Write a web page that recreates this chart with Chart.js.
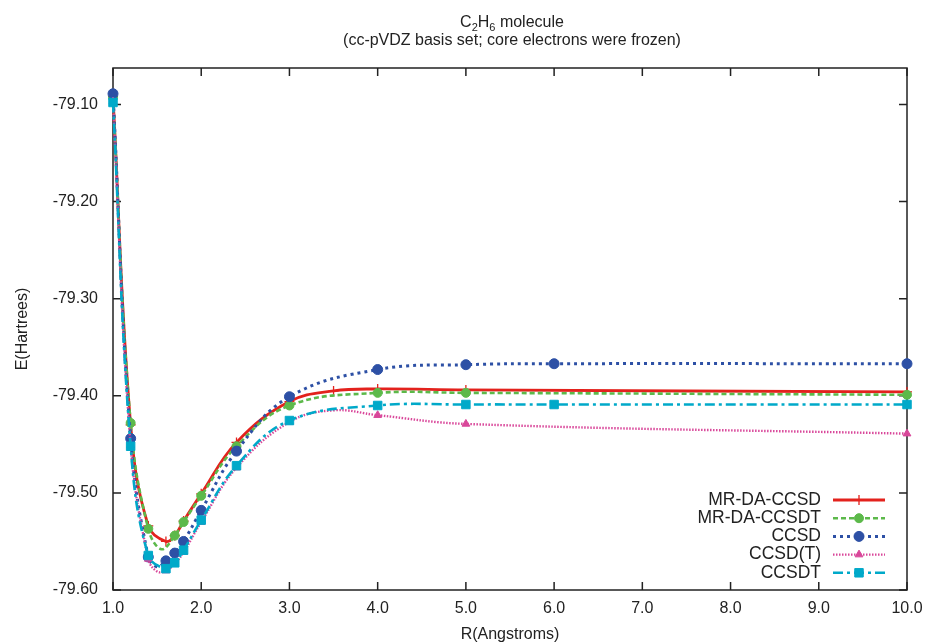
<!DOCTYPE html>
<html>
<head>
<meta charset="utf-8">
<title>C2H6 molecule</title>
<script src="https://cdn.jsdelivr.net/npm/chart.js@4.4.1/dist/chart.umd.min.js"></script>
<style>
  html, body { margin: 0; padding: 0; background: #fff; }
</style>
</head>
<body>
<canvas id="pes" width="925" height="643"></canvas>
<script>
// Potential energy curves of C2H6, cc-pVDZ basis, frozen core.
// R in Angstroms, E in Hartrees.

const xTicks = [1, 2, 3, 4, 5, 6, 7, 8, 9, 10];
const yTicks = [-79.6, -79.5, -79.4, -79.3, -79.2, -79.1];

// MR-DA-CCSD
const mrdaCcsdR = [1.0, 1.2, 1.4, 1.6, 1.7, 1.8, 2.0, 2.4, 3.0, 3.5, 4.0, 5.0, 10.0];
const mrdaCcsdE = [-79.092, -79.430, -79.534, -79.550, -79.544, -79.529, -79.501, -79.448, -79.406, -79.395, -79.393, -79.394, -79.396];
const mrdaCcsdBend = [];

// MR-DA-CCSDT
const mrdaCcsdtR = [1.0, 1.2, 1.4, 1.55, 1.7, 1.8, 2.0, 2.4, 3.0, 4.0, 5.0, 10.0];
const mrdaCcsdtE = [-79.093, -79.428, -79.537, -79.558, -79.544, -79.530, -79.503, -79.452, -79.410, -79.397, -79.397, -79.399];
const mrdaCcsdtBend = [1.55];

// CCSD
const ccsdR = [1.0, 1.2, 1.4, 1.5, 1.6, 1.7, 1.8, 2.0, 2.4, 3.0, 4.0, 5.0, 6.0, 10.0];
const ccsdE = [-79.089, -79.444, -79.566, -79.576, -79.570, -79.562, -79.550, -79.518, -79.457, -79.401, -79.373, -79.368, -79.367, -79.367];
const ccsdBend = [1.5];

// CCSD(T)
const ccsdPtR = [1.0, 1.2, 1.4, 1.5, 1.6, 1.7, 1.8, 2.0, 2.4, 3.0, 3.5, 4.0, 5.0, 10.0];
const ccsdPtE = [-79.097, -79.451, -79.568, -79.581, -79.580, -79.573, -79.561, -79.530, -79.474, -79.427, -79.415, -79.420, -79.429, -79.439];
const ccsdPtBend = [1.5, 3.5];

// CCSDT
const ccsdtR = [1.0, 1.2, 1.4, 1.6, 1.7, 1.8, 2.0, 2.4, 3.0, 4.0, 5.0, 6.0, 10.0];
const ccsdtE = [-79.098, -79.452, -79.5645, -79.578, -79.572, -79.559, -79.528, -79.472, -79.4255, -79.410, -79.409, -79.409, -79.409];
const ccsdtBend = [];

const FONT = "'Liberation Sans', Arial, Helvetica, sans-serif";
const INK = '#222';

function curve(label, R, E, bend, color, dash, width, pointStyle, radius, order) {
    return {
        label: label,
        data: R.map((r, i) => ({ x: r, y: E[i] })),
        borderColor: color,
        backgroundColor: color,
        borderWidth: width,
        borderDash: dash,
        tension: 0.4,
        pointStyle: pointStyle,
        pointRadius: ctx => bend.includes(ctx.raw.x) ? 0 : radius,
        pointBorderWidth: pointStyle === 'cross' ? 1.3 : 1,
        pointBackgroundColor: color,
        pointBorderColor: color,
        clip: false,
        order: order
    };
}

const datasets = [
    curve('MR-DA-CCSD', mrdaCcsdR, mrdaCcsdE, mrdaCcsdBend, '#e3221d', [], 2.8, 'cross', 5, 5),
    curve('MR-DA-CCSDT', mrdaCcsdtR, mrdaCcsdtE, mrdaCcsdtBend, '#5cb94a', [5, 3], 2.6, 'circle', 4.5, 4),
    curve('CCSD', ccsdR, ccsdE, ccsdBend, '#2d50a5', [3, 4], 3, 'circle', 5, 3),
    curve('CCSD(T)', ccsdPtR, ccsdPtE, ccsdPtBend, '#d9479a', [1.5, 1.5], 2.4, 'triangle', 4.5, 2),
    curve('CCSDT', ccsdtR, ccsdtE, ccsdtBend, '#00a9c9', [10, 4, 3, 4], 2.6, 'rect', 6, 1)
];

// border box with inward ticks on all four sides
const frame = {
    id: 'frame',
    beforeDatasetsDraw(chart) {
        const { ctx, chartArea: a, scales: { x, y } } = chart;
        ctx.save();
        ctx.strokeStyle = INK;
        ctx.lineWidth = 1.5;
        ctx.setLineDash([]);
        ctx.strokeRect(a.left, a.top, a.right - a.left, a.bottom - a.top);
        ctx.beginPath();
        xTicks.forEach(v => {
            const px = x.getPixelForValue(v);
            ctx.moveTo(px, a.bottom); ctx.lineTo(px, a.bottom - 8);
            ctx.moveTo(px, a.top); ctx.lineTo(px, a.top + 8);
        });
        yTicks.forEach(v => {
            const py = y.getPixelForValue(v);
            ctx.moveTo(a.left, py); ctx.lineTo(a.left + 8, py);
            ctx.moveTo(a.right, py); ctx.lineTo(a.right - 8, py);
        });
        ctx.stroke();
        ctx.restore();
    }
};

// two line title with subscripts, and the key at the lower right
const decorations = {
    id: 'decorations',
    afterDraw(chart) {
        const { ctx } = chart;
        ctx.save();
        ctx.fillStyle = INK;
        ctx.textBaseline = 'alphabetic';

        const cx = 512;
        const parts = [['C', 0], ['2', 1], ['H', 0], ['6', 1], [' molecule', 0]];
        const fontFor = sub => (sub ? '11px ' : '16px ') + FONT;
        let total = 0;
        parts.forEach(([t, sub]) => { ctx.font = fontFor(sub); total += ctx.measureText(t).width; });
        let px = cx - total / 2;
        ctx.textAlign = 'left';
        parts.forEach(([t, sub]) => {
            ctx.font = fontFor(sub);
            ctx.fillText(t, px, sub ? 31 : 27);
            px += ctx.measureText(t).width;
        });
        ctx.font = '16px ' + FONT;
        ctx.textAlign = 'center';
        ctx.fillText('(cc-pVDZ basis set; core electrons were frozen)', cx, 44.5);

        // key
        chart.data.datasets.forEach((ds, i) => {
            const ky = 500 + 18.2 * i;
            ctx.font = '17.5px ' + FONT;
            ctx.textAlign = 'right';
            ctx.textBaseline = 'middle';
            ctx.fillStyle = INK;
            ctx.fillText(ds.label, 821, ky);

            ctx.strokeStyle = ds.borderColor;
            ctx.lineWidth = ds.borderWidth;
            ctx.setLineDash(ds.borderDash);
            ctx.beginPath();
            ctx.moveTo(833, ky);
            ctx.lineTo(885, ky);
            ctx.stroke();

            ctx.setLineDash([]);
            ctx.fillStyle = ds.pointBackgroundColor;
            ctx.strokeStyle = ds.pointBorderColor;
            ctx.lineWidth = ds.pointBorderWidth;
            const r = ds.pointRadius({ raw: { x: NaN } });
            Chart.helpers.drawPoint(ctx, { pointStyle: ds.pointStyle, radius: r, rotation: 0, borderWidth: ds.pointBorderWidth }, 859, ky);
        });
        ctx.restore();
    }
};

new Chart(document.getElementById('pes'), {
    type: 'line',
    data: { datasets: datasets },
    options: {
        responsive: false,
        animation: false,
        devicePixelRatio: 1,
        layout: { padding: { top: 68, right: 18, bottom: 0, left: 0 } },
        plugins: {
            legend: { display: false },
            tooltip: { enabled: false },
            title: { display: false }
        },
        scales: {
            x: {
                type: 'linear',
                min: 1,
                max: 10,
                afterBuildTicks: s => { s.ticks = xTicks.map(v => ({ value: v })); },
                afterFit: s => { s.height = 53; s.paddingLeft = 0; s.paddingRight = 0; },
                grid: { display: false, drawTicks: false },
                border: { display: false },
                ticks: {
                    callback: v => v.toFixed(1),
                    color: INK,
                    font: { family: FONT, size: 16 },
                    padding: 9,
                    maxRotation: 0,
                    autoSkip: false
                },
                title: {
                    display: true,
                    text: 'R(Angstroms)',
                    color: INK,
                    font: { family: FONT, size: 16, lineHeight: 1 },
                    padding: { top: 0, bottom: 0 }
                }
            },
            y: {
                min: -79.6,
                max: -79.0625,
                afterBuildTicks: s => { s.ticks = yTicks.map(v => ({ value: v })); },
                afterFit: s => { s.width = 113; },
                grid: { display: false, drawTicks: false },
                border: { display: false },
                ticks: {
                    callback: v => v.toFixed(2),
                    color: INK,
                    font: { family: FONT, size: 16 },
                    padding: 15
                },
                title: {
                    display: true,
                    text: 'E(Hartrees)',
                    color: INK,
                    font: { family: FONT, size: 16 },
                    padding: { top: 13, bottom: 0 }
                }
            }
        }
    },
    plugins: [frame, decorations]
});
</script>
</body>
</html>
